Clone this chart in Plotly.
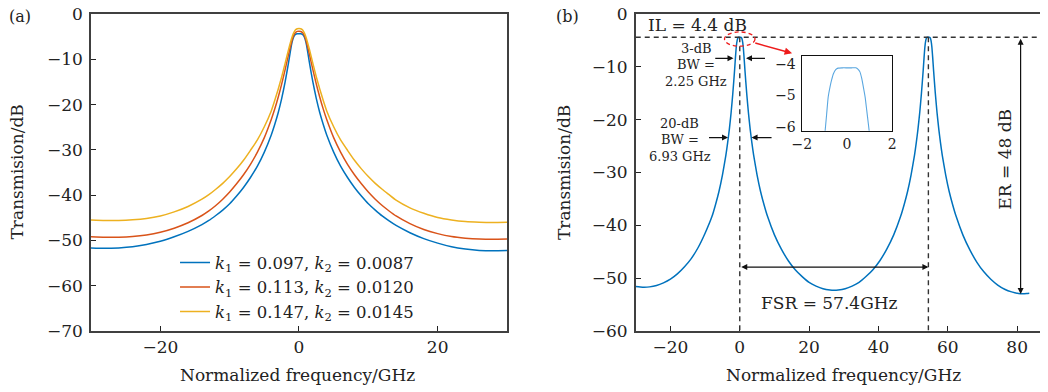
import plotly.graph_objects as go

# ---------------- data ----------------
# Panel (a): normalized frequency (GHz) and transmission (dB) for three coupling sets
freq_a = [-30, -28, -26, -24, -22, -20, -18, -16, -14, -13, -12, -11, -10, -9, -8, -7, -6, -5, -4, -3.5,
          -3, -2.5, -2, -1.5, -1.25, -1, -0.75, -0.5, -0.25, 0, 0.25, 0.5, 0.75, 1, 1.25, 1.5, 2, 2.5, 3,
          3.5, 4, 5, 6, 7, 8, 9, 10, 11, 12, 13, 14, 16, 18, 20, 22, 24, 26, 28, 30]
trans_blue = [-51.65, -51.75, -51.65, -51.4, -50.9, -50.2, -49.2, -48.0, -46.5, -45.6, -44.5, -43.3, -41.9,
              -40.2, -38.3, -36.1, -33.6, -30.5, -26.7, -24.4, -21.8, -18.7, -15.0, -10.7, -8.3, -6.2,
              -5.0, -4.5, -4.37, -4.35, -4.37, -4.5, -5.0, -6.2, -8.3, -10.7, -15.0, -18.7, -21.8, -24.4,
              -26.7, -30.5, -33.6, -36.1, -38.3, -40.2, -41.9, -43.3, -44.6, -45.7, -46.7, -48.3, -49.6,
              -50.6, -51.4, -51.9, -52.2, -52.3, -52.25]
trans_red = [-49.2, -49.3, -49.3, -49.15, -48.8, -48.2, -47.3, -46.1, -44.5, -43.5, -42.3, -40.9, -39.3,
             -37.5, -35.5, -33.2, -30.5, -27.3, -23.3, -21.0, -18.4, -15.5, -12.3, -8.9, -7.3, -5.8, -4.7,
             -4.1, -3.85, -3.8, -3.85, -4.1, -4.7, -5.8, -7.3, -8.9, -12.3, -15.5, -18.4, -21.0, -23.3,
             -27.3, -30.5, -33.2, -35.5, -37.5, -39.3, -40.9, -42.3, -43.5, -44.6, -46.3, -47.6, -48.5,
             -49.15, -49.5, -49.7, -49.75, -49.7]
trans_yellow = [-45.5, -45.6, -45.6, -45.45, -45.15, -44.6, -43.7, -42.5, -40.9, -39.9, -38.7, -37.4, -35.9,
                -34.2, -32.3, -30.1, -27.8, -24.9, -21.4, -19.1, -16.6, -13.9, -10.9, -7.8, -6.4, -5.1,
                -4.1, -3.5, -3.25, -3.2, -3.25, -3.5, -4.1, -5.1, -6.4, -7.8, -10.9, -13.9, -16.6, -19.1,
                -21.4, -24.9, -27.8, -30.1, -32.3, -34.2, -35.9, -37.4, -38.7, -39.9, -41.1, -42.8, -44.0,
                -44.95, -45.5, -45.85, -46.0, -46.05, -46.0]
legend_names = ["<i>k</i><sub>1</sub> = 0.097, <i>k</i><sub>2</sub> = 0.0087",
                "<i>k</i><sub>1</sub> = 0.113, <i>k</i><sub>2</sub> = 0.0120",
                "<i>k</i><sub>1</sub> = 0.147, <i>k</i><sub>2</sub> = 0.0145"]

# Panel (b): periodic response
freq_b = [-30, -28, -26, -24, -22, -20, -18, -16, -14, -12, -10, -8, -7, -6, -5, -4, -3.5, -3, -2.5, -2,
          -1.5, -1.25, -1, -0.75, -0.5, -0.25, 0, 0.25, 0.5, 0.75, 1, 1.25, 1.5, 2, 2.5, 3, 3.5, 4, 5, 6,
          7, 8, 10, 12, 14, 16, 18, 20, 22, 24, 26, 27.2, 28.4, 30.4, 32.4, 34.4, 36.4, 38.4, 40.4, 42.4,
          44.4, 46.4, 47.4, 48.4, 49.4, 50.4, 50.9, 51.4, 51.9, 52.4, 52.9, 53.15, 53.4, 53.65, 53.9, 54.15,
          54.4, 54.65, 54.9, 55.15, 55.4, 55.65, 55.9, 56.4, 56.9, 57.4, 57.9, 58.4, 59.4, 60.4, 61.4, 62.4,
          64.4, 66.4, 68.4, 70.4, 72.4, 74.4, 76.4, 78.4, 80.4, 81.6, 82.8, 83.5]
trans_b = [-51.6, -51.7, -51.65, -51.4, -50.9, -50.2, -49.2, -47.9, -46.3, -44.2, -41.5, -38.3, -36.1,
           -33.6, -30.5, -26.7, -24.4, -21.8, -18.7, -15.0, -10.7, -8.3, -6.2, -5.0, -4.5, -4.4, -4.4,
           -4.4, -4.5, -5.0, -6.2, -8.3, -10.7, -15.0, -18.7, -21.8, -24.4, -26.7, -30.5, -33.6, -36.1,
           -38.3, -41.8, -44.5, -46.7, -48.4, -49.7, -50.8, -51.5, -52.0, -52.25, -52.3, -52.25, -52.0,
           -51.5, -50.8, -49.7, -48.4, -46.7, -44.5, -41.8, -38.3, -36.1, -33.6, -30.5, -26.7, -24.4,
           -21.8, -18.7, -15.0, -10.7, -8.3, -6.2, -5.0, -4.5, -4.4, -4.4, -4.4, -4.5, -5.0, -6.2, -8.3,
           -10.7, -15.0, -18.7, -21.8, -24.4, -26.7, -30.5, -33.6, -36.1, -38.3, -41.9, -44.7, -47.0,
           -48.8, -50.2, -51.3, -52.1, -52.6, -52.9, -52.95, -52.9, -52.85]

# Inset: zoom on the flat top of the first peak
freq_in = [-1.0, -0.9, -0.83, -0.75, -0.68, -0.6, -0.5, -0.4, -0.2, 0, 0.2, 0.39, 0.48, 0.57, 0.65, 0.72,
           0.8, 0.87, 0.94, 1.02]
trans_in = [-6.4, -5.6, -5.04, -4.72, -4.5, -4.3, -4.17, -4.12, -4.11, -4.11, -4.11, -4.11, -4.15, -4.24,
            -4.45, -4.72, -5.05, -5.47, -5.9, -6.4]

# annotation quantities (panel b)
il_db = -4.4
peaks = [0, 54.4]
er_x = 81.0
er_bottom = -53.0
fsr_y = -47.9

assert len(freq_a) == len(trans_blue) == len(trans_red) == len(trans_yellow)
assert len(freq_b) == len(trans_b)
assert len(freq_in) == len(trans_in)

# ---------------- figure ----------------
FONT = "DejaVu Serif"
colors = ["#0072BD", "#D95319", "#EDB120"]

fig = go.Figure()
for ys, c, nm in zip([trans_blue, trans_red, trans_yellow], colors, legend_names):
    fig.add_trace(go.Scatter(x=freq_a, y=ys, mode="lines", name=nm,
                             line=dict(color=c, width=1.5, shape="spline", smoothing=0.5),
                             xaxis="x", yaxis="y"))
fig.add_trace(go.Scatter(x=freq_b, y=trans_b, mode="lines", showlegend=False,
                         line=dict(color=colors[0], width=1.5, shape="spline", smoothing=0.5),
                         xaxis="x2", yaxis="y2"))
fig.add_trace(go.Scatter(x=freq_in, y=trans_in, mode="lines", showlegend=False,
                         line=dict(color="#5aa7e0", width=1.1, shape="spline", smoothing=0.5),
                         xaxis="x3", yaxis="y3"))

axis_common = dict(showline=True, linecolor="#404040", linewidth=1.6, mirror=True, ticks="inside",
                   ticklen=5, tickcolor="#222", tickwidth=1.2, showgrid=False, zeroline=False,
                   automargin=False, ticklabeloverflow="allow",
                   tickfont=dict(family=FONT, size=17, color="#222"))
inset_common = dict(showline=True, linecolor="#111", linewidth=1.3, mirror=True, ticks="",
                    showgrid=False, zeroline=False, automargin=False, ticklabeloverflow="allow",
                    tickfont=dict(family=FONT, size=14, color="#222"))
# the page body adds an 8 px offset, so the figure is 1040 x 384
ydom = [0.1589, 0.9844]
fig.update_layout(
    template="none",
    width=1040, height=384, margin=dict(l=0, r=0, t=0, b=0, pad=0, autoexpand=False),
    paper_bgcolor="white", plot_bgcolor="white",
    font=dict(family=FONT, color="#222"),
    xaxis=dict(domain=[0.0798, 0.4798], range=[-30, 30], tickvals=[-20, 0, 20], anchor="y",
               ticklabelstandoff=0, **axis_common),
    yaxis=dict(domain=ydom, range=[-70, 0], dtick=10, anchor="x", ticklabelstandoff=3, **axis_common),
    xaxis2=dict(domain=[0.6036, 1.0], range=[-30, 88.9], dtick=20, anchor="y2",
                ticklabelstandoff=0, **axis_common),
    yaxis2=dict(domain=ydom, range=[-60, 0], dtick=10, anchor="x2", ticklabelstandoff=3, **axis_common),
    xaxis3=dict(domain=[0.7632, 0.8503], range=[-2, 2], tickvals=[-2, 0, 2], anchor="y3",
                ticklabelstandoff=0, **inset_common),
    yaxis3=dict(domain=[0.6805, 0.8758], range=[-6.13, -3.72], tickvals=[-6, -5, -4], anchor="x3",
                ticklabelstandoff=2, **inset_common),
    legend=dict(x=0.1606, y=0.382, xanchor="left", yanchor="top", bgcolor="rgba(0,0,0,0)",
                borderwidth=0, font=dict(family=FONT, size=16.5, color="#222"), tracegroupgap=0),
    showlegend=True,
)

# shapes on panel (b)
dash = "5px,4px"
fig.add_shape(type="line", xref="x2 domain", yref="y2", x0=0, x1=1, y0=il_db, y1=il_db,
              line=dict(color="#333", width=1.4, dash=dash))
for p in peaks:
    fig.add_shape(type="line", xref="x2", yref="y2", x0=p, x1=p, y0=il_db, y1=-60,
                  line=dict(color="#333", width=1.4, dash=dash))
fig.add_shape(type="circle", xref="x2", yref="y2", x0=peaks[0] - 4.4, x1=peaks[0] + 4.4, y0=-6.1, y1=-3.4,
              line=dict(color="#ee1c1c", width=1.3, dash="4px,3px"))

ann = []
def arrow(xh, yh, xt, yt, color="#111", side="end", width=1.2):
    ann.append(dict(x=xh, y=yh, ax=xt, ay=yt, xref="x2", yref="y2", axref="x2", ayref="y2",
                    text="", showarrow=True, arrowhead=2, arrowsize=1, arrowwidth=width,
                    arrowcolor=color, arrowside=side, standoff=0, startstandoff=0))

def text(x, y, s, size=17, xref="x2", yref="y2", xanchor="center", yanchor="middle", angle=0):
    ann.append(dict(x=x, y=y, xref=xref, yref=yref, text=s, showarrow=False, xanchor=xanchor,
                    yanchor=yanchor, textangle=angle, font=dict(family=FONT, size=size, color="#222")))

# red pointer to inset
arrow(15.1, -7.43, 4.04, -5.43, color="#ee1c1c", width=1.5)
# 3-dB bandwidth arrows
arrow(-1.8, -8.4, -7.5, -8.4)
arrow(1.8, -8.4, 7.7, -8.4)
# 20-dB bandwidth arrows
arrow(-3.4, -23.4, -9.3, -23.4)
arrow(3.4, -23.4, 9.6, -23.4)
# FSR double arrow
arrow(peaks[1], fsr_y, peaks[0], fsr_y, side="end+start")
# ER double arrow
arrow(er_x, er_bottom, er_x, il_db, side="end+start")

# text labels panel (b)
text(-26.9, -2.1, "IL = 4.4 dB", size=17, xanchor="left")
for i, s in enumerate(["3-dB", "BW =", "2.25 GHz"]):
    text(-12.5, -6.6 - i * 3.05, s, size=13)
for i, s in enumerate(["20-dB", "BW =", "6.93 GHz"]):
    text(-17.3, -20.8 - i * 3.05, s, size=13)
text(25.8, -54.7, "FSR = 57.4GHz", size=17)
text(76.6, -27.5, "ER = 48 dB", size=17, angle=-90)

# axis titles and panel labels (paper coordinates)
text(0.2788, 0.0443, "Normalized frequency/GHz", xref="paper", yref="paper")
text(0.8029, 0.0443, "Normalized frequency/GHz", xref="paper", yref="paper")
text(0.0091, 0.5729, "Transmision/dB", xref="paper", yref="paper", angle=-90)
text(0.5346, 0.5729, "Transmision/dB", xref="paper", yref="paper", angle=-90)
text(0.0115, 0.979, "(a)", xref="paper", yref="paper", size=16)
text(0.5375, 0.979, "(b)", xref="paper", yref="paper", size=16)

fig.update_layout(annotations=ann)
fig.write_html("out.html")
